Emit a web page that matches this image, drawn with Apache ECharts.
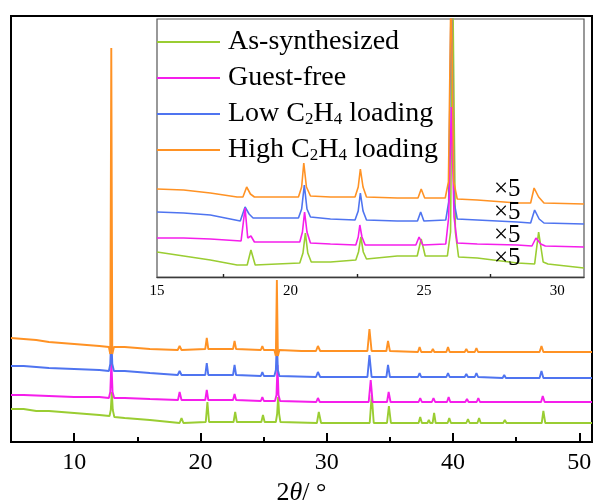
<!DOCTYPE html>
<html>
<head>
<meta charset="utf-8">
<script src="https://cdn.jsdelivr.net/npm/echarts@6/dist/echarts.min.js"></script>
<style>html,body{margin:0;padding:0;background:#fff}#c{width:595px;height:501px}</style>
</head>
<body>
<div id="c"></div>
<script>
// ---------- tick labels ----------
var mainTickLabels = [10, 20, 30, 40, 50];
var mainMinorTicks = [15, 25, 35, 45];
var insetTickLabels = [15, 20, 25, 30];
var insetMajorTicks = [20, 25, 30];
var insetMinorTicks = [17.5, 22.5, 27.5];

var seriesNames = ['As-synthesized', 'Guest-free', 'Low C2H4 loading', 'High C2H4 loading'];

// ---------- main pattern (2θ, intensity a.u., stacked with offsets) ----------
var mainHigh = [[5,104],[6,103],[7,102],[8,100],[10,98],[12,96],[12.75,95],[12.86,88],[12.94,394],[13.02,88],[13.15,95],[14,95],[16,93],[18.2,92],[18.35,96],[18.5,92],[20.38,93],[20.5,104],[20.62,93],[22.58,93],[22.7,101],[22.82,93],[24.78,92],[24.9,96],[25.02,92],[25.85,92],[25.97,86],[26.05,162],[26.13,86],[26.25,92],[28,91],[29.15,91],[29.3,96],[29.48,91],[33.22,91],[33.38,113],[33.55,91],[34.72,91],[34.85,101],[35.0,91],[37.22,90],[37.35,95],[37.48,90],[38.28,90],[38.4,93],[38.52,90],[39.47,90],[39.6,95],[39.73,90],[40.92,90],[41.05,93],[41.18,90],[41.72,90],[41.85,94],[41.98,90],[43.92,90],[44.05,92],[44.18,90],[46.85,90],[47.0,96],[47.15,90],[48.12,90],[48.25,92],[48.38,90],[51,90]];
var mainLow = [[5,76],[6,76],[8,74],[10,73],[12,72],[12.75,71],[12.86,78],[12.94,107],[13.02,78],[13.15,71],[14,71],[16,69],[18.2,67],[18.35,71],[18.5,67],[20.38,67],[20.5,79],[20.62,67],[22.58,67],[22.7,77],[22.82,67],[24.78,66],[24.9,70],[25.02,66],[25.85,66],[25.97,72],[26.05,102],[26.13,72],[26.25,66],[29.15,65],[29.3,70],[29.48,65],[33.22,65],[33.38,87],[33.55,65],[34.72,65],[34.85,77],[35.0,65],[37.22,65],[37.35,69],[37.48,65],[38.28,65],[38.4,67],[38.52,65],[39.47,65],[39.6,69],[39.73,65],[40.92,65],[41.05,68],[41.18,65],[41.72,65],[41.85,69],[41.98,65],[43.92,64],[44.05,67],[44.18,64],[46.85,64],[47.0,71],[47.15,64],[48.12,64],[48.25,66],[48.38,64],[51,64]];
var mainGuestFree = [[5,47],[6,47],[8,46],[10,45],[12,45],[12.75,44],[12.86,50],[12.95,80],[13.04,50],[13.17,44],[14,44],[16,43],[18.22,42],[18.35,50],[18.5,42],[20.38,42],[20.5,52],[20.62,42],[22.58,42],[22.7,48],[22.82,42],[24.78,41],[24.9,45],[25.02,41],[25.9,41],[26.02,47],[26.1,77],[26.18,47],[26.3,41],[29.17,40],[29.3,44],[29.45,40],[33.32,40],[33.48,62],[33.63,40],[34.77,40],[34.9,50],[35.05,40],[37.27,40],[37.4,44],[37.53,40],[38.32,40],[38.45,44],[38.58,40],[39.52,40],[39.65,45],[39.78,40],[40.97,40],[41.1,43],[41.23,40],[41.87,40],[42.0,44],[42.13,40],[44.02,40],[44.15,42],[44.28,40],[46.97,40],[47.1,46],[47.25,40],[51,40]];
var mainAsSynth = [[5,33],[6,33],[7,31],[8,31],[10,29],[12,27],[12.8,26],[12.9,32],[12.98,50],[13.06,32],[13.18,25],[14,24],[16,22],[18.35,19],[18.5,24],[18.65,19],[20.42,20],[20.55,40],[20.68,20],[22.62,20],[22.75,30],[22.88,20],[24.82,20],[24.95,27],[25.08,20],[25.97,20],[26.07,28],[26.15,45],[26.23,28],[26.33,20],[29.22,19],[29.37,30],[29.55,19],[33.4,19],[33.56,47],[33.72,19],[34.77,19],[34.92,36],[35.08,19],[37.27,19],[37.4,25],[37.53,19],[37.97,19],[38.08,22],[38.19,19],[38.38,19],[38.5,29],[38.62,19],[39.57,19],[39.7,24],[39.83,19],[41.05,19],[41.18,23],[41.31,19],[41.93,19],[42.06,24],[42.19,19],[43.97,19],[44.1,22],[44.23,19],[44.75,19],[44.85,21],[44.95,19],[46.1,19],[46.22,21],[46.34,19],[47.02,19],[47.15,31],[47.3,19],[48.08,19],[48.2,21],[48.32,19],[51,19]];

// ---------- inset pattern (15-31°, x5) ----------
var insetHigh = [[15,88],[16,87],[17,84],[18.0,80],[18.22,80],[18.36,90],[18.5,83],[18.65,80],[19.5,80],[20.3,80],[20.42,90],[20.5,114],[20.6,90],[20.75,81],[21.5,80],[22.42,80],[22.54,90],[22.62,108],[22.72,90],[22.85,80],[24.0,79],[24.78,79],[24.9,88],[25.03,79],[25.8,79],[25.92,95],[26.02,300],[26.12,95],[26.25,78],[27,77],[28.5,74],[29.0,74],[29.13,89],[29.3,80],[29.5,74],[31,73]];
var insetLow = [[15,65],[16,64],[17,62],[18.12,56],[18.3,70],[18.45,63],[18.6,59],[19.5,59],[20.3,59],[20.42,68],[20.52,92],[20.62,68],[20.75,60],[21.5,58],[22.42,57],[22.54,66],[22.62,84],[22.72,66],[22.85,57],[24.0,56],[24.76,56],[24.88,65],[25.0,56],[25.82,57],[25.93,75],[26.03,300],[26.13,75],[26.25,58],[27,57],[28.5,55],[29.0,54],[29.15,67],[29.32,58],[29.5,54],[31,53]];
var insetGuestFree = [[15,39],[16,39],[17,38],[18.15,36],[18.3,69],[18.4,39],[18.52,41],[18.65,35],[19.5,35],[20.35,35],[20.45,45],[20.53,65],[20.62,45],[20.75,34],[21.5,33],[22.45,32],[22.54,40],[22.6,52],[22.68,40],[22.8,32],[24.0,32],[24.7,32],[24.82,40],[24.96,32],[25.82,33],[25.93,60],[26.03,170],[26.13,60],[26.25,34],[27,33],[28.5,32],[29.05,31],[29.2,39],[29.38,33],[29.55,31],[31,30]];
var insetAsSynth = [[15,25],[16,21],[17,17],[18.0,12],[18.38,12],[18.52,27],[18.68,12],[19.5,13],[20.35,14],[20.47,24],[20.56,44],[20.65,24],[20.78,15],[21.5,15],[22.45,17],[22.55,25],[22.64,40],[22.73,25],[22.85,18],[24.0,21],[24.75,21],[24.9,38],[25.05,21],[25.88,21],[26.0,45],[26.08,300],[26.18,45],[26.3,20],[27,19],[28.5,14],[29.15,13],[29.3,45],[29.47,15],[29.65,13],[31,9]];

var colors = ['#9ACD32', '#F51EEB', '#4F74F0', '#FF9224'];
var FONT = 'Liberation Serif';

function mk(name, data, idx, color, w) {
  return {
    name: name, type: 'line', data: data, xAxisIndex: idx, yAxisIndex: idx,
    showSymbol: false, symbol: 'none', smooth: false, animation: false,
    color: color, lineStyle: { color: color, width: w }, clip: true
  };
}

var chart = echarts.init(document.getElementById('c'), null, { renderer: 'canvas' });
chart.setOption({
  animation: false,
  grid: [
    { left: 11, right: 3, top: 16, bottom: 59, outerBoundsMode: 'none', containLabel: false, show: true, borderColor: '#000', borderWidth: 2, backgroundColor: 'transparent' },
    { left: 157, top: 19, width: 427, height: 258, outerBoundsMode: 'none', containLabel: false, show: true, borderColor: '#555', borderWidth: 1.2, backgroundColor: '#fff', z: 5 },
    { left: 11, right: 3, top: 16, bottom: 59, outerBoundsMode: 'none', containLabel: false, show: false },
    { left: 157, top: 19, width: 427, height: 258, outerBoundsMode: 'none', containLabel: false, show: false }
  ],
  xAxis: [
    { type: 'value', gridIndex: 0, min: 5, max: 51,
      name: '{n|2}{i|θ}{n|/ }{n|°}', nameLocation: 'middle', nameGap: 34,
      nameTextStyle: { rich: {
        n: { fontFamily: FONT, fontSize: 26, color: '#000' },
        i: { fontFamily: FONT, fontSize: 26, fontStyle: 'italic', color: '#000' } } },
      axisLine: { show: true, lineStyle: { color: '#000', width: 2 } },
      axisTick: { show: true, inside: true, length: 9, customValues: mainTickLabels, lineStyle: { color: '#000', width: 2 } },
      axisLabel: { show: true, customValues: mainTickLabels, margin: 9, fontFamily: FONT, fontSize: 24, color: '#000' },
      splitLine: { show: false } },
    { type: 'value', gridIndex: 1, min: 15, max: 31,
      axisLine: { show: true, lineStyle: { color: '#222', width: 1.4 } },
      axisTick: { show: true, inside: true, length: 5, customValues: insetMajorTicks, lineStyle: { color: '#222', width: 1.4 } },
      axisLabel: { show: true, customValues: insetTickLabels, margin: 7, fontFamily: FONT, fontSize: 15, color: '#000' },
      splitLine: { show: false } },
    { type: 'value', gridIndex: 2, min: 5, max: 51,
      axisLine: { show: false },
      axisTick: { show: true, inside: true, length: 5, customValues: mainMinorTicks, lineStyle: { color: '#000', width: 2 } },
      axisLabel: { show: false }, splitLine: { show: false } },
    { type: 'value', gridIndex: 3, min: 15, max: 31, z: 10,
      axisLine: { show: false },
      axisTick: { show: true, inside: true, length: 3, customValues: insetMinorTicks, lineStyle: { color: '#222', width: 1.4 } },
      axisLabel: { show: false }, splitLine: { show: false } }
  ],
  yAxis: [
    { type: 'value', gridIndex: 0, min: 0, max: 426, show: false },
    { type: 'value', gridIndex: 1, min: 0, max: 258, show: false },
    { type: 'value', gridIndex: 2, min: 0, max: 426, show: false },
    { type: 'value', gridIndex: 3, min: 0, max: 258, show: false }
  ],
  legend: {
    orient: 'vertical', left: 157, top: 28, padding: 0, itemGap: 8,
    itemWidth: 63, itemHeight: 2, icon: 'rect', selectedMode: false, z: 20,
    data: seriesNames,
    formatter: function (n) { return n.replace('C2H4', 'C{s|2}H{s|4}'); },
    textStyle: { fontFamily: FONT, fontSize: 28, color: '#000', padding: [0, 0, 0, 3],
      rich: { s: { fontFamily: FONT, fontSize: 17, color: '#000', verticalAlign: 'bottom' } } }
  },
  graphic: [
    { type: 'text', left: 494, top: 177, z: 30, style: { text: '×5', font: '25px "Liberation Serif"', fill: '#000' } },
    { type: 'text', left: 494, top: 200, z: 30, style: { text: '×5', font: '25px "Liberation Serif"', fill: '#000' } },
    { type: 'text', left: 494, top: 223, z: 30, style: { text: '×5', font: '25px "Liberation Serif"', fill: '#000' } },
    { type: 'text', left: 494, top: 246, z: 30, style: { text: '×5', font: '25px "Liberation Serif"', fill: '#000' } }
  ],
  series: [
    mk(seriesNames[0], mainAsSynth, 0, colors[0], 1.9),
    mk(seriesNames[1], mainGuestFree, 0, colors[1], 1.9),
    mk(seriesNames[2], mainLow, 0, colors[2], 1.9),
    mk(seriesNames[3], mainHigh, 0, colors[3], 1.9),
    Object.assign(mk(seriesNames[0], insetAsSynth, 1, colors[0], 1.6), { z: 6 }),
    Object.assign(mk(seriesNames[2], insetLow, 1, colors[2], 1.6), { z: 6 }),
    Object.assign(mk(seriesNames[1], insetGuestFree, 1, colors[1], 1.6), { z: 6 }),
    Object.assign(mk(seriesNames[3], insetHigh, 1, colors[3], 1.6), { z: 6 })
  ]
});
</script>
</body>
</html>
